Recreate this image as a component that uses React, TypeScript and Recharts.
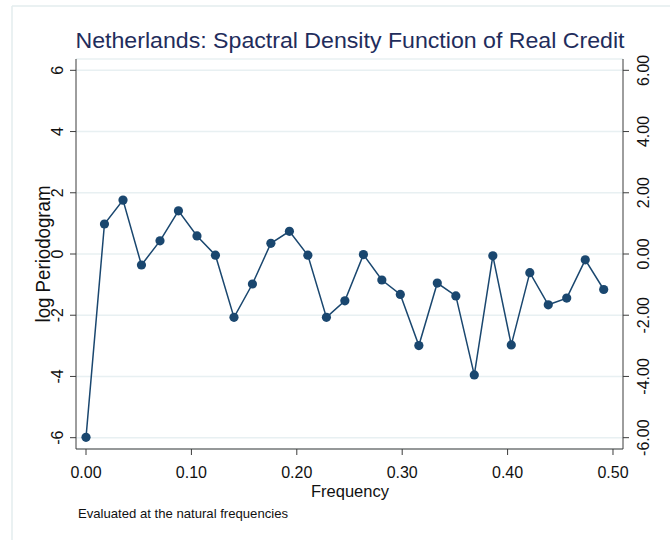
import React from 'react';
import { LineChart, Line, XAxis, YAxis, CartesianGrid } from 'recharts';

const frequencies = [
  0, 0.0175, 0.0351, 0.0526, 0.0702, 0.0877, 0.1053, 0.1228, 0.1404, 0.1579,
  0.1754, 0.193, 0.2105, 0.2281, 0.2456, 0.2632, 0.2807, 0.2982, 0.3158, 0.3333,
  0.3509, 0.3684, 0.386, 0.4035, 0.4211, 0.4386, 0.4561, 0.4737, 0.4912,
];
const logPeriodogram = [
  -5.99, 0.98, 1.76, -0.36, 0.43, 1.41, 0.59, -0.04, -2.07, -0.98,
  0.35, 0.74, -0.04, -2.07, -1.53, -0.02, -0.85, -1.32, -2.99, -0.95,
  -1.37, -3.95, -0.06, -2.97, -0.61, -1.66, -1.44, -0.19, -1.16,
];
const xTicks = [0, 0.1, 0.2, 0.3, 0.4, 0.5];
const yTicks = [-6, -4, -2, 0, 2, 4, 6];

const titleText = 'Netherlands: Spactral Density Function of Real Credit';
const xLabel = 'Frequency';
const yLabel = 'log Periodogram';
const noteText = 'Evaluated at the natural frequencies';

const data = frequencies.map((f, i) => ({ freq: f, lp: logPeriodogram[i] }));

const FONT = '"Liberation Sans", Arial, sans-serif';
const NAVY = '#1a476f';
const AXIS = '#3c3c3c';

const XTick = (props: any) => {
  const { x, payload } = props;
  return (
    <text x={x} y={478} textAnchor="middle" fontSize={16} fontFamily={FONT} fill="#111">
      {Number(payload.value).toFixed(2)}
    </text>
  );
};

const LeftTick = (props: any) => {
  const { y, payload } = props;
  return (
    <text
      transform={`translate(63, ${y}) rotate(-90)`}
      textAnchor="middle"
      fontSize={16}
      fontFamily={FONT}
      fill="#111"
    >
      {String(payload.value)}
    </text>
  );
};

const RightTick = (props: any) => {
  const { y, payload } = props;
  return (
    <text
      transform={`translate(649, ${y}) rotate(-90)`}
      textAnchor="middle"
      fontSize={16}
      fontFamily={FONT}
      fill="#111"
    >
      {Number(payload.value).toFixed(2)}
    </text>
  );
};

export default function App() {
  return (
    <div style={{ position: 'absolute', left: 0, top: 0, width: 670, height: 540, background: '#fff' }}>
      <LineChart
        width={670}
        height={540}
        data={data}
        margin={{ top: 59, right: 10, bottom: 50, left: 10 }}
      >
        <CartesianGrid yAxisId="left" vertical={false} stroke="#e8f0f2" strokeWidth={1.5} />
        <XAxis
          dataKey="freq"
          type="number"
          domain={[-0.0095, 0.5095]}
          ticks={xTicks}
          height={41}
          tickSize={6}
          stroke={AXIS}
          tickLine={{ stroke: AXIS }}
          tick={<XTick />}
          interval={0}
          allowDataOverflow
        />
        <YAxis
          yAxisId="left"
          type="number"
          domain={[-6.37, 6.37]}
          ticks={yTicks}
          width={66}
          tickSize={6}
          stroke={AXIS}
          tick={<LeftTick />}
          interval={0}
          allowDataOverflow
        />
        <YAxis
          yAxisId="right"
          orientation="right"
          type="number"
          domain={[-6.37, 6.37]}
          ticks={yTicks}
          width={37}
          tickSize={6}
          stroke={AXIS}
          tick={<RightTick />}
          interval={0}
          allowDataOverflow
        />
        <Line
          yAxisId="left"
          dataKey="lp"
          type="linear"
          stroke={NAVY}
          strokeWidth={1.5}
          dot={{ r: 4.6, fill: NAVY, stroke: 'none' }}
          isAnimationActive={false}
        />
      </LineChart>
      <svg
        width={670}
        height={540}
        style={{ position: 'absolute', left: 0, top: 0, pointerEvents: 'none' }}
      >
        <line x1={12} y1={6} x2={670} y2={6} stroke="#e3ecee" strokeWidth={1.5} />
        <line x1={12} y1={6} x2={12} y2={540} stroke="#e3ecee" strokeWidth={1.5} />
        <text
          x={350}
          y={48}
          textAnchor="middle"
          fontSize={22}
          fontFamily={FONT}
          fill="#1f2d5c"
          textLength={549}
          lengthAdjust="spacingAndGlyphs"
        >
          {titleText}
        </text>
        <text
          x={350}
          y={497}
          textAnchor="middle"
          fontSize={17}
          fontFamily={FONT}
          fill="#111"
          textLength={78}
          lengthAdjust="spacingAndGlyphs"
        >
          {xLabel}
        </text>
        <text
          transform="translate(50, 254) rotate(-90)"
          textAnchor="middle"
          fontSize={20}
          fontFamily={FONT}
          fill="#111"
          textLength={137}
          lengthAdjust="spacingAndGlyphs"
        >
          {yLabel}
        </text>
        <text
          x={78}
          y={518}
          fontSize={13}
          fontFamily={FONT}
          fill="#111"
          textLength={210}
          lengthAdjust="spacingAndGlyphs"
        >
          {noteText}
        </text>
      </svg>
    </div>
  );
}
